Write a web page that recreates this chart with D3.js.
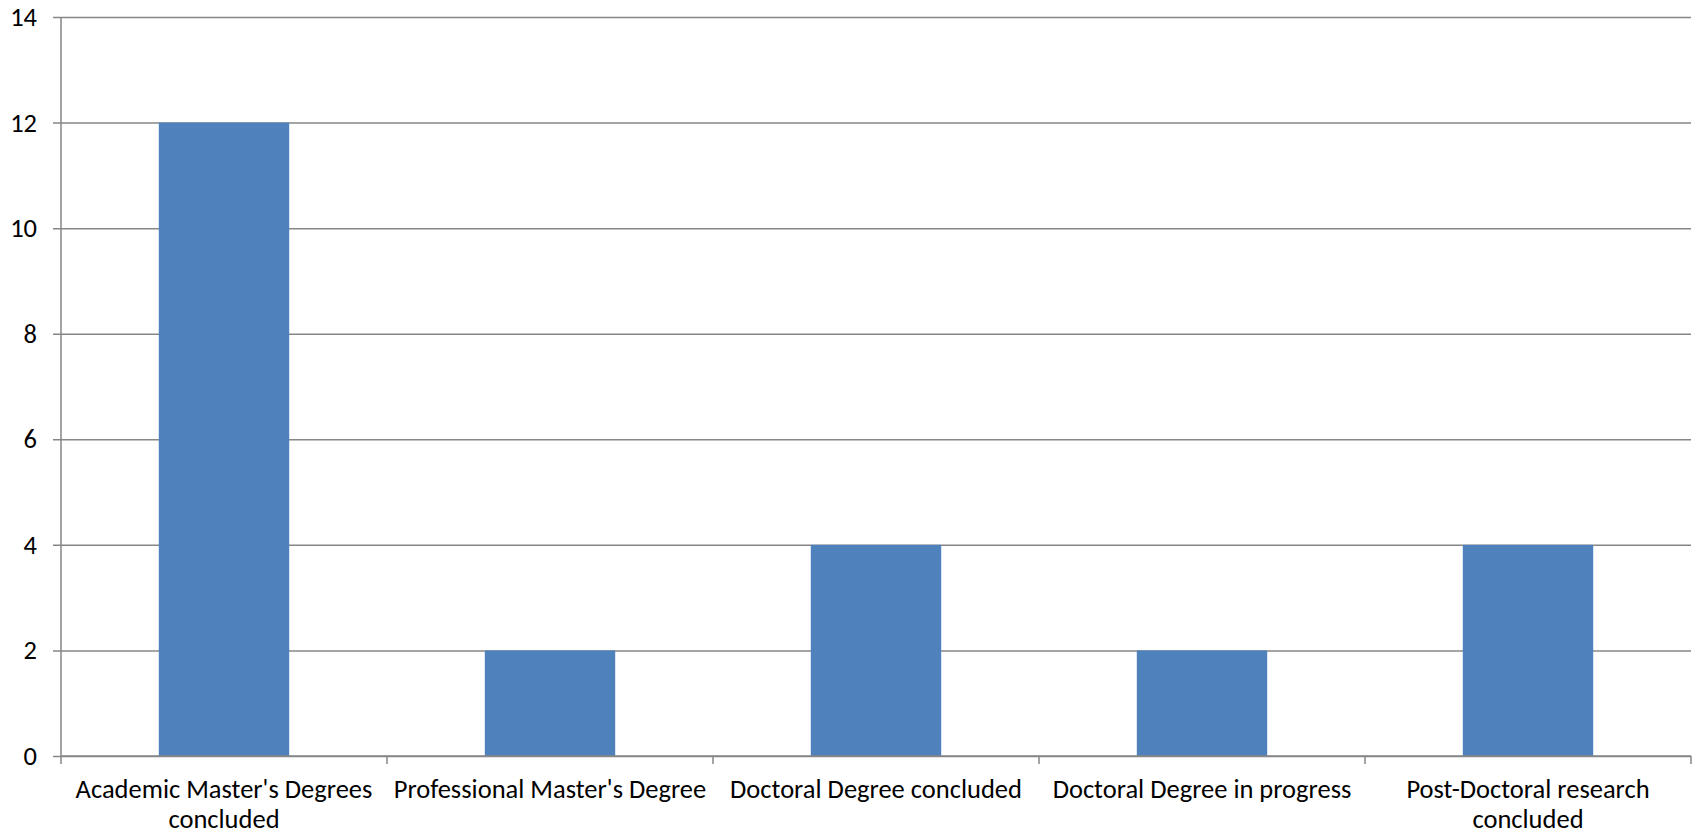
<!DOCTYPE html>
<html>
<head>
<meta charset="utf-8">
<script src="https://cdn.jsdelivr.net/npm/d3@7"></script>
<style>
  html, body { margin: 0; padding: 0; background: #fff; }
  text { font-family: Carlito, Lato, "Open Sans", sans-serif; fill: #000; }
</style>
</head>
<body>
<div id="chart"></div>
<script>
// ===== data =====
const categories = [
    "Academic Master's Degrees concluded",
    "Professional Master's Degree",
    "Doctoral Degree concluded",
    "Doctoral Degree in progress",
    "Post-Doctoral research concluded"
];
const values = [12, 2, 4, 2, 4];
const yTicks = [0, 2, 4, 6, 8, 10, 12, 14];

// ===== layout =====
const svgw = 1696, svgh = 836;
const margin = {top: 17, right: 5, bottom: 80, left: 61};
const plotw = svgw - margin.left - margin.right;
const ploth = svgh - margin.top - margin.bottom;
const gridColor = '#868686';
const barColor = '#4f81bd';
const fontSize = 26.5;

let svg = d3.select('#chart').append('svg')
    .attr('width', svgw)
    .attr('height', svgh);

let g = svg.append('g')
    .attr('transform', 'translate(' + margin.left + ',' + margin.top + ')');

let x = d3.scaleBand()
    .domain(categories)
    .range([0, plotw])
    .paddingInner(0.6)
    .paddingOuter(0.3);

let y = d3.scaleLinear()
    .domain([0, 14])
    .range([ploth, 0]);

//====[ gridlines + y axis ]====//
let yAxis = g.append('g')
    .call(d3.axisLeft(y).tickValues(yTicks).tickSize(-plotw).tickPadding(0).tickFormat(d3.format('d')));
yAxis.select('.domain').remove();
yAxis.selectAll('.tick line')
    .attr('x1', -8)
    .attr('stroke', gridColor)
    .attr('stroke-width', 1.5);
yAxis.selectAll('.tick text')
    .attr('x', -24)
    .attr('font-size', fontSize)
    .attr('font-family', null)
    .attr('fill', '#000');

//====[ bars ]====//
g.selectAll('rect.bar')
    .data(values)
    .enter()
    .append('rect')
    .classed('bar', true)
    .attr('x', (d, i) => x(categories[i]))
    .attr('width', x.bandwidth())
    .attr('y', d => y(d))
    .attr('height', d => y(0) - y(d))
    .attr('fill', barColor);

//====[ y axis line ]====//
g.append('line')
    .attr('x1', 0).attr('x2', 0)
    .attr('y1', 0).attr('y2', ploth)
    .attr('stroke', gridColor)
    .attr('stroke-width', 1.5);

//====[ x axis ]====//
let xg = g.append('g').attr('transform', 'translate(0,' + ploth + ')');
xg.append('line')
    .attr('x1', 0).attr('x2', plotw)
    .attr('stroke', gridColor)
    .attr('stroke-width', 1.5);

// ticks at the category boundaries
let step = x.step();
xg.selectAll('line.bound')
    .data(d3.range(categories.length + 1))
    .enter()
    .append('line')
    .classed('bound', true)
    .attr('x1', i => i * step).attr('x2', i => i * step)
    .attr('y1', 0).attr('y2', 8)
    .attr('stroke', gridColor)
    .attr('stroke-width', 1.5);

// category labels, wrapped to the band width
let labels = xg.selectAll('text.cat')
    .data(categories)
    .enter()
    .append('text')
    .classed('cat', true)
    .attr('x', d => x(d) + x.bandwidth() / 2)
    .attr('y', 42)
    .attr('text-anchor', 'middle')
    .attr('font-size', fontSize);

labels.each(function (d) {
    let t = d3.select(this);
    let words = d.split(' ');
    let line = [];
    let tspan = t.append('tspan').attr('x', t.attr('x')).attr('dy', 0);
    words.forEach(w => {
        line.push(w);
        tspan.text(line.join(' '));
        if (tspan.node().getComputedTextLength() > step - 6 && line.length > 1) {
            line.pop();
            tspan.text(line.join(' '));
            line = [w];
            tspan = t.append('tspan').attr('x', t.attr('x')).attr('dy', 30).text(w);
        }
    });
});
</script>
</body>
</html>
